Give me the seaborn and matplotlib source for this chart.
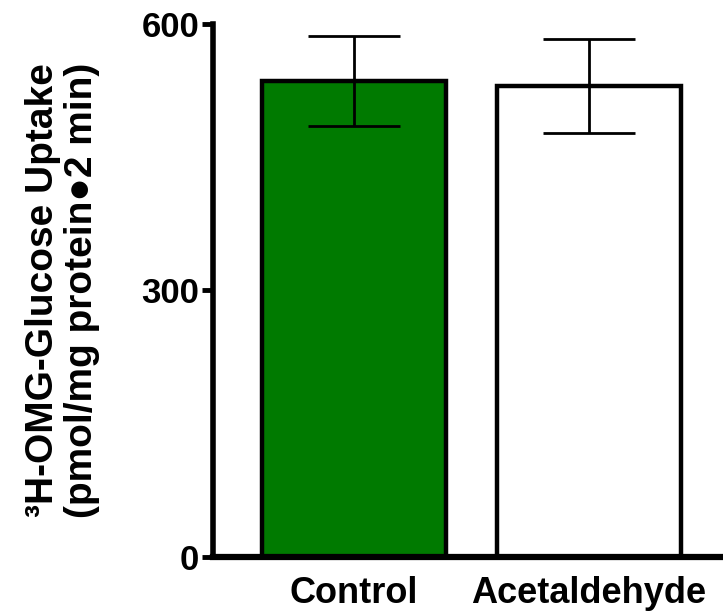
import numpy as np
import pandas as pd
import seaborn as sns
import matplotlib.pyplot as plt

# values
groups = ['Control', 'Acetaldehyde']
uptake = [536, 530]
sem = [51, 53]
bar_colors = ['#007A00', '#FFFFFF']
y_ticks = [0, 300, 600]

df = pd.DataFrame({'group': groups, 'uptake': uptake})

sns.set_style('ticks')
plt.rcParams['font.family'] = ['Liberation Sans', 'DejaVu Sans']
plt.rcParams['font.weight'] = 'bold'
for key in ['text.color', 'axes.labelcolor', 'xtick.color', 'ytick.color', 'axes.edgecolor']:
    plt.rcParams[key] = 'black'

fig = plt.figure(figsize=(7.23, 6.15), dpi=100)
ax = fig.add_axes([0.2946, 0.0943, 0.7054, 0.8667])

sns.barplot(data=df, x='group', y='uptake', hue='group', palette=bar_colors,
            saturation=1, width=0.78, edgecolor='black', linewidth=3.2,
            errorbar=None, legend=False, ax=ax, zorder=2)

ax.errorbar(np.arange(len(groups)), uptake, yerr=sem, fmt='none',
            ecolor='black', elinewidth=2, capsize=33, capthick=2, zorder=3)

ax.set_ylim(0, 600)
ax.set_xlim(-0.6, 1.57)
ax.set_yticks(y_ticks)
ax.set_yticklabels([str(t) for t in y_ticks])

for lab in ax.get_yticklabels():
    lab.set_fontweight('bold')
    lab.set_fontsize(25)
for lab in ax.get_xticklabels():
    lab.set_fontweight('bold')
    lab.set_fontsize(26)

ax.set_xlabel('')
ax.set_ylabel('³H-OMG-Glucose Uptake\n(pmol/mg protein●2 min)',
              fontsize=28, fontweight='bold', labelpad=30, linespacing=1.1)

sns.despine(ax=ax)
ax.spines['left'].set_linewidth(4)
ax.spines['bottom'].set_linewidth(4.5)
ax.tick_params(axis='y', length=8, width=3.5, pad=2)
ax.tick_params(axis='x', length=0, pad=14)

plt.savefig('out.png', dpi=100)
